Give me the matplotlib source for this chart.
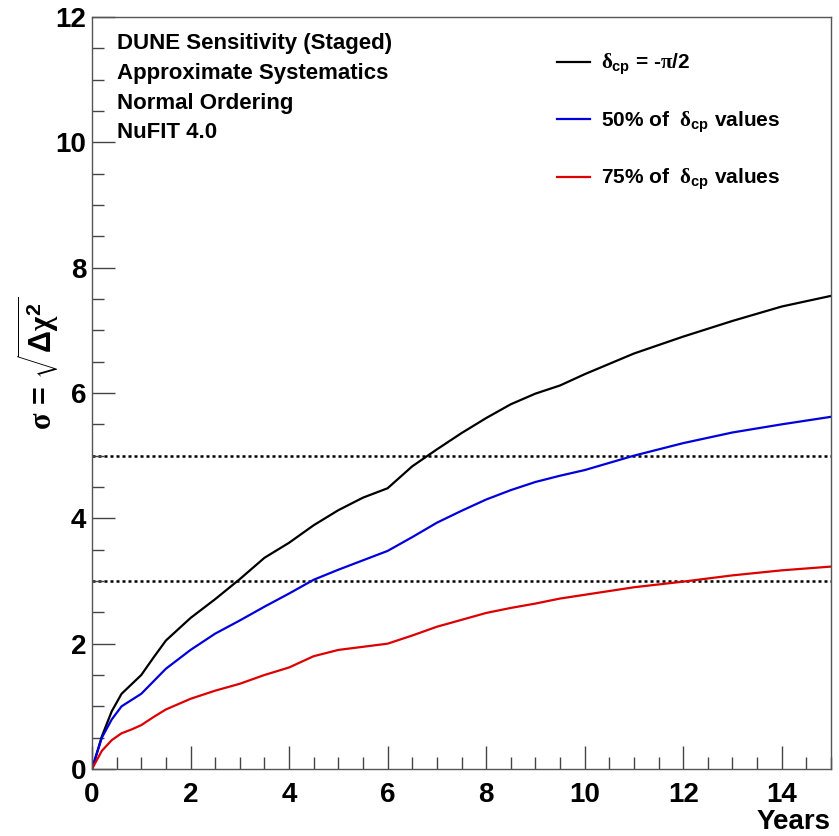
import matplotlib
matplotlib.use('Agg')
import matplotlib.pyplot as plt
from matplotlib.ticker import MultipleLocator

plt.rcParams['font.family'] = ['Liberation Sans', 'DejaVu Sans']
plt.rcParams['font.weight'] = 'bold'
plt.rcParams['mathtext.fontset'] = 'custom'
plt.rcParams['mathtext.rm'] = 'Liberation Sans:bold'
plt.rcParams['mathtext.bf'] = 'Liberation Sans:bold'
plt.rcParams['mathtext.it'] = 'Liberation Serif'

# Years of exposure and CPV significance for each curve
years = [0, 0.2, 0.4, 0.6, 0.8, 1.0, 1.25, 1.5, 2, 2.5, 3, 3.5, 4, 4.5, 5,
         5.5, 6, 6.5, 7, 7.5, 8, 8.5, 9, 9.5, 10, 11, 12, 13, 14, 15]
sig_max = [0, 0.52, 0.92, 1.2, 1.35, 1.5, 1.78, 2.05, 2.41, 2.71, 3.03, 3.37,
           3.61, 3.89, 4.13, 4.33, 4.48, 4.83, 5.1, 5.36, 5.6, 5.82, 5.99,
           6.12, 6.3, 6.63, 6.9, 7.15, 7.38, 7.55]
sig_50 = [0, 0.5, 0.79, 1.0, 1.1, 1.2, 1.4, 1.6, 1.9, 2.16, 2.37, 2.59, 2.8,
          3.02, 3.18, 3.33, 3.48, 3.7, 3.93, 4.12, 4.3, 4.45, 4.58, 4.68, 4.77,
          5.0, 5.2, 5.37, 5.5, 5.62]
sig_75 = [0, 0.29, 0.46, 0.57, 0.63, 0.7, 0.83, 0.95, 1.12, 1.25, 1.36, 1.5,
          1.62, 1.8, 1.9, 1.95, 2.0, 2.13, 2.27, 2.38, 2.49, 2.57, 2.64, 2.72,
          2.78, 2.9, 2.99, 3.09, 3.17, 3.23]

labels = [r'$\delta_{\mathrm{cp}}$ = -$\pi$/2',
          r'50% of  $\delta_{\mathrm{cp}}$ values',
          r'75% of  $\delta_{\mathrm{cp}}$ values']
colors = ['black', '#0000dd', '#dd0000']
sigma_lines = [3, 5]
info_lines = ['DUNE Sensitivity (Staged)', 'Approximate Systematics',
              'Normal Ordering', 'NuFIT 4.0']

fig = plt.figure(figsize=(8.39, 8.36), dpi=100)
ax = fig.add_axes([92 / 839, 67 / 836, 739 / 839, 752 / 836])

for s in sigma_lines:
    ax.axhline(s, color='black', lw=1.8, dashes=(1.2, 1.2), zorder=1)

for ys, c, lab in zip([sig_max, sig_50, sig_75], colors, labels):
    ax.plot(years, ys, color=c, lw=1.6, label=lab, zorder=2)

ax.set_xlim(0, 15)
ax.set_ylim(0, 12)
ax.xaxis.set_major_locator(MultipleLocator(2))
ax.xaxis.set_minor_locator(MultipleLocator(0.5))
ax.yaxis.set_major_locator(MultipleLocator(2))
ax.yaxis.set_minor_locator(MultipleLocator(0.5))
ax.tick_params(which='both', direction='in', top=False, right=False,
               color='#444444', width=1, labelsize=20)
ax.tick_params(which='major', length=16.5)
ax.tick_params(which='minor', length=8.5)
ax.tick_params(axis='x', pad=9)
ax.tick_params(axis='y', pad=4)
for sp in ax.spines.values():
    sp.set_color('#555555')
    sp.set_linewidth(1)

fig.text(831 / 839, 1 - 822 / 836, 'Years', ha='right', va='center',
         fontsize=20, fontweight='bold')
fig.text(38 / 839, 1 - 363 / 836, r'$\sigma$ = $\sqrt{\Delta\chi^{2}}$',
         rotation=90, ha='center', va='center', fontsize=22, fontweight='bold')

for i, line in enumerate(info_lines):
    fig.text(117 / 839, 1 - (43 + 30 * i) / 836, line, ha='left', va='center',
             fontsize=16, fontweight='bold')

ax.legend(loc='upper left', bbox_to_anchor=(557 / 839, 1 - 52 / 836),
          bbox_transform=fig.transFigure, frameon=False, fontsize=15,
          handlelength=1.6, handletextpad=0.5, labelspacing=1.55,
          borderpad=0, borderaxespad=0)

fig.savefig('out.png', dpi=100)
